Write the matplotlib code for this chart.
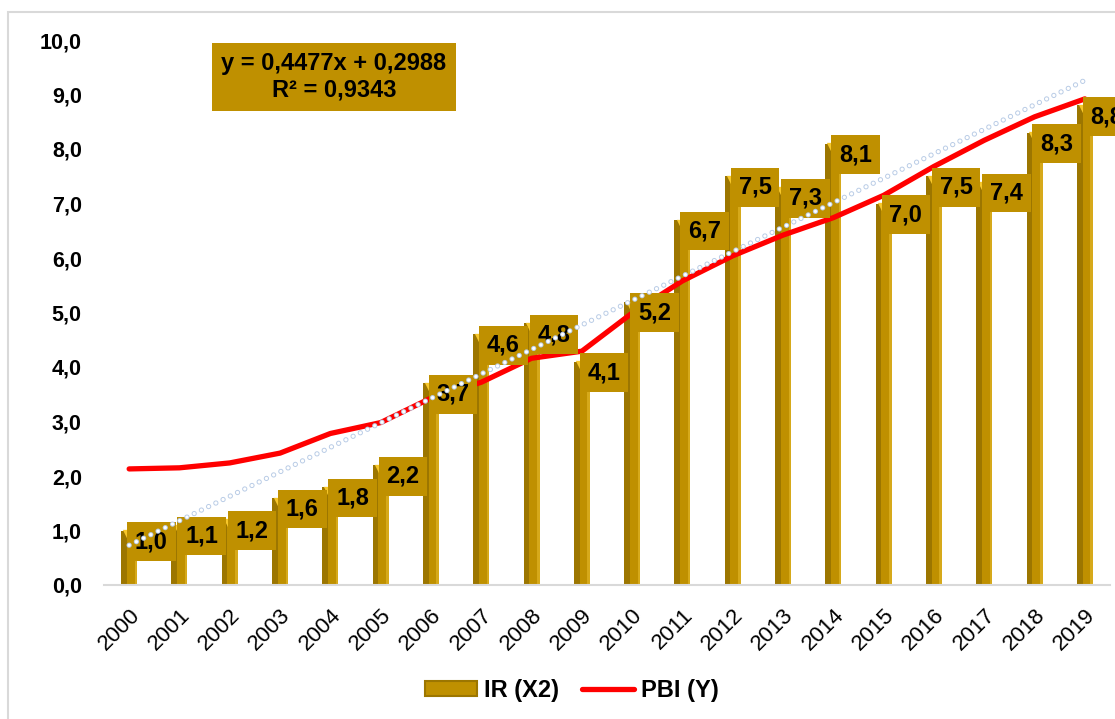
import matplotlib
matplotlib.use('Agg')
import matplotlib.pyplot as plt
import matplotlib.patheffects as pe
from matplotlib.patches import Patch, Rectangle
from matplotlib.lines import Line2D
import numpy as np

# data
years = ['2000', '2001', '2002', '2003', '2004', '2005', '2006', '2007', '2008', '2009',
         '2010', '2011', '2012', '2013', '2014', '2015', '2016', '2017', '2018', '2019']
ir = [1.0, 1.1, 1.2, 1.6, 1.8, 2.2, 3.7, 4.6, 4.8, 4.1,
      5.2, 6.7, 7.5, 7.3, 8.1, 7.0, 7.5, 7.4, 8.3, 8.8]
pbi = [2.13, 2.15, 2.24, 2.42, 2.78, 2.98, 3.43, 3.72, 4.16, 4.29,
       4.99, 5.58, 6.04, 6.42, 6.74, 7.15, 7.68, 8.16, 8.59, 8.92]
y_ticks = [0, 1, 2, 3, 4, 5, 6, 7, 8, 9, 10]
eq_text = 'y = 0,4477x + 0,2988\nR² = 0,9343'
legend_labels = ['IR (X2)', 'PBI (Y)']

GOLD = '#BF9000'
GOLD_DARK = '#9C7600'
GOLD_LIGHT = '#D6A91A'


def comma(v):
    return f'{v:.1f}'.replace('.', ',')


plt.rcParams['font.family'] = ['Liberation Sans', 'DejaVu Sans']

fig = plt.figure(figsize=(11.15, 7.19), dpi=100)
ax = fig.add_axes([104 / 1115, 1 - 585 / 719, (1110 - 104) / 1115, (585 - 40) / 719])

x = np.arange(len(years))
w = 0.32

# bevelled gold bars
ax.bar(x, ir, width=w, color=GOLD, zorder=2)
ax.bar(x - w * 0.32, ir, width=w * 0.36, color=GOLD_DARK, zorder=2.1)
ax.bar(x + w * 0.42, ir, width=w * 0.16, color=GOLD_LIGHT, zorder=2.1)
ax.scatter(x - w * 0.12, np.array(ir) - 0.07, marker='v', s=45, color='#F7C72A',
           linewidths=0, zorder=2.2)

# PBI line
ax.plot(x, pbi, color='#FF0000', lw=3.8, solid_capstyle='round',
        solid_joinstyle='round', zorder=4)

# data labels
for xi, v in zip(x, ir):
    ax.annotate(comma(v), (xi, v), xytext=(16, -8), textcoords='offset points',
                ha='center', va='center', fontsize=17, fontweight='bold',
                bbox=dict(boxstyle='square,pad=0.33', fc=GOLD, ec='none'), zorder=5)

# linear trend of IR
coef = np.polyfit(x + 1, ir, 1)
trend = np.polyval(coef, x + 1)
ax.plot(x[[0, -1]], trend[[0, -1]], color='white', lw=2.4, linestyle=(0, (0.01, 2.4)),
        dash_capstyle='round', zorder=6,
        path_effects=[pe.Stroke(linewidth=3.8, foreground='#B9CCE6'), pe.Normal()])

ax.set_xlim(-0.5, len(years) - 0.5)
ax.set_ylim(0, 10)
ax.set_yticks(y_ticks, [comma(v) for v in y_ticks], fontsize=15.5, fontweight='bold')
ax.set_xticks(x, years, rotation=45, ha='right', va='top', rotation_mode='anchor',
              fontsize=16)
ax.tick_params(axis='y', length=0, pad=16)
ax.tick_params(axis='x', length=0, pad=14)
for s in ['top', 'right', 'left']:
    ax.spines[s].set_visible(False)
ax.spines['bottom'].set_color('#D9D9D9')
ax.spines['bottom'].set_linewidth(1.5)

fig.text(334 / 1115, 1 - 77 / 719, eq_text, ha='center', va='center', fontsize=17,
         fontweight='bold', bbox=dict(boxstyle='square,pad=0.4', fc=GOLD, ec='none'))

handles = [Patch(fc=GOLD, ec=GOLD_DARK, lw=1.5),
           Line2D([], [], color='#FF0000', lw=3.8, solid_capstyle='round')]
fig.legend(handles, legend_labels, loc='center', bbox_to_anchor=(0.513, 0.04), ncol=2,
           frameon=False, prop=dict(weight='bold', size=17), handlelength=2.2,
           handleheight=0.6, handletextpad=0.3, columnspacing=1.0)

# chart area border
fig.patches.append(Rectangle((8 / 1115, -0.05), 1.2, 1.05 - 12 / 719, transform=fig.transFigure,
                             fill=False, ec='#D9D9D9', lw=1.5))

fig.savefig('out.png', dpi=100)
